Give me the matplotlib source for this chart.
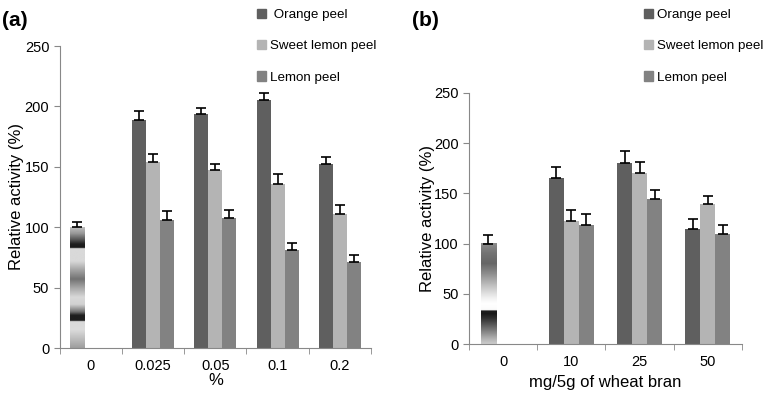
import numpy as np
import matplotlib.pyplot as plt
from matplotlib.patches import Patch

plt.rcParams['font.family'] = ['Liberation Sans', 'DejaVu Sans']

# data, panel (a)
cats_a = ['0', '0.025', '0.05', '0.1', '0.2']
orange_a = [189, 194, 205, 152]
sweet_a = [154, 147, 136, 111]
lemon_a = [106, 108, 81, 71]
orange_a_err = [7, 5, 6, 6]
sweet_a_err = [7, 5, 8, 7]
lemon_a_err = [7, 6, 6, 6]
control_a, control_a_err = 100, 4

# data, panel (b)
cats_b = ['0', '10', '25', '50']
orange_b = [165, 180, 115]
sweet_b = [123, 170, 139]
lemon_b = [119, 144, 110]
orange_b_err = [11, 12, 10]
sweet_b_err = [10, 11, 8]
lemon_b_err = [10, 9, 9]
control_b, control_b_err = 100, 9

names = ['Orange peel', 'Sweet lemon peel', 'Lemon peel']
colors = ['#5f5f5f', '#b4b4b4', '#828282']

# gradient stops of the control bars (fraction of height, gray level)
grad_a = [(0, .62), (.05, .7), (.15, .86), (.22, .85), (.225, .12), (.27, .12),
          (.3, .45), (.36, .82), (.42, .85), (.5, .65), (.57, .45), (.63, .6),
          (.72, .85), (.8, .85), (.825, .85), (.83, .1), (.86, .12), (.9, .35),
          (.95, .6), (1, .75)]
grad_b = [(0, .8), (.05, .7), (.15, .45), (.25, .2), (.3, .1), (.33, .12),
          (.335, .98), (.4, 1), (.45, .95), (.5, .88), (.6, .72), (.7, .55),
          (.8, .4), (.9, .45), (1, .55)]


def panel(ax, cats, series, errs, control, control_err, grad, w):
    n = len(cats)
    x = np.arange(n)
    offs = [-w, 0, w]
    for vals, e, off, c in zip(series, errs, offs, colors):
        ax.bar(x[1:] + off, vals, w, color=c, zorder=2)
        ax.errorbar(x[1:] + off, vals, yerr=[np.zeros(len(vals)), e],
                    fmt='none', ecolor='black', elinewidth=1.2, capsize=3.5,
                    capthick=1.2, zorder=3)
    b = ax.bar(x[0] - w, control, w, color='none', zorder=2)[0]
    h = np.linspace(0, 1, 300)
    g = np.interp(h, [s[0] for s in grad], [s[1] for s in grad])
    ax.imshow(g[::-1, None], cmap='gray', vmin=0, vmax=1, aspect='auto',
              extent=[b.get_x(), b.get_x() + b.get_width(), 0, b.get_height()],
              zorder=2, interpolation='bilinear')
    ax.errorbar([x[0] - w], [control], yerr=[[0], [control_err]], fmt='none',
                ecolor='black', elinewidth=1.2, capsize=3.5, capthick=1.2, zorder=3)
    ax.set_xlim(-0.5, n - 0.5)
    ax.set_ylim(0, 250)
    ax.set_yticks(range(0, 251, 50))
    ax.set_xticks(x)
    ax.set_xticklabels(cats, fontsize=10.5)
    ax.set_xticks(np.arange(n + 1) - 0.5, minor=True)
    ax.tick_params(axis='x', which='major', length=0, pad=8)
    ax.tick_params(axis='x', which='minor', length=4, color='#888888')
    ax.tick_params(axis='y', length=4, color='#888888', labelsize=10.5)
    for s in ['top', 'right']:
        ax.spines[s].set_visible(False)
    for s in ['left', 'bottom']:
        ax.spines[s].set_color('#888888')
    ax.set_ylabel('Relative activity (%)', fontsize=12)


fig = plt.figure(figsize=(7.65, 4), dpi=100)
ax1 = fig.add_axes([0.078, 0.13, 0.407, 0.755])
ax2 = fig.add_axes([0.613, 0.14, 0.357, 0.6275])

panel(ax1, cats_a, [orange_a, sweet_a, lemon_a],
      [orange_a_err, sweet_a_err, lemon_a_err], control_a, control_a_err, grad_a, 0.225)
panel(ax2, cats_b, [orange_b, sweet_b, lemon_b],
      [orange_b_err, sweet_b_err, lemon_b_err], control_b, control_b_err, grad_b, 0.22)
ax1.set_xlabel('%', fontsize=12, labelpad=0)
ax2.set_xlabel('mg/5g of wheat bran', fontsize=12, labelpad=4)
ax1.yaxis.set_label_coords(-0.115, 0.5)
ax2.yaxis.set_label_coords(-0.125, 0.5)

fig.text(0.003, 0.95, '(a)', fontsize=15, fontweight='bold', va='center')
fig.text(0.538, 0.95, '(b)', fontsize=15, fontweight='bold', va='center')

handles = [Patch(color=c) for c in colors]
for xpos, labs in [(0.32, [' ' + names[0]] + names[1:]), (0.826, names)]:
    fig.legend(handles, labs, loc='upper left', bbox_to_anchor=(xpos, 1.008),
               frameon=False, fontsize=9.6, handlelength=0.7, handleheight=0.7,
               handletextpad=0.3, labelspacing=1.42)

fig.savefig('out.png', dpi=100)
